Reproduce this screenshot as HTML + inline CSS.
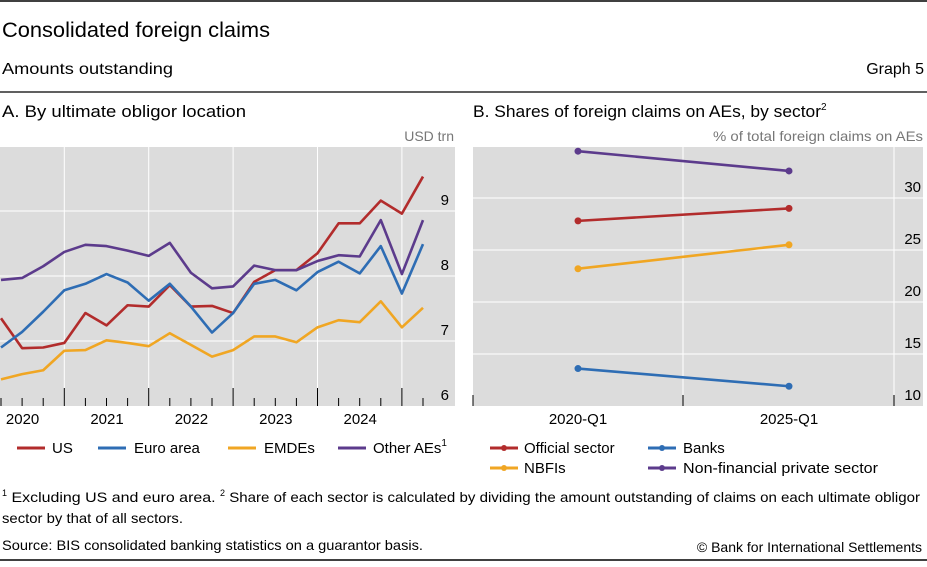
<!DOCTYPE html>
<html><head><meta charset="utf-8"><style>
body{margin:0;width:927px;height:562px;background:#fff;font-family:"Liberation Sans",sans-serif;overflow:hidden}
svg text{font-family:"Liberation Sans",sans-serif}
</style></head><body>
<svg id="c" width="927" height="562" xmlns="http://www.w3.org/2000/svg">
<line x1="0" y1="1" x2="927" y2="1" stroke="#000" stroke-width="1.5"/>
<text x="2" y="37" font-size="21" textLength="268" lengthAdjust="spacingAndGlyphs">Consolidated foreign claims</text>
<text x="2" y="74" font-size="16" textLength="171" lengthAdjust="spacingAndGlyphs">Amounts outstanding</text>
<text x="924" y="74" font-size="16" text-anchor="end">Graph 5</text>
<line x1="0" y1="92" x2="927" y2="92" stroke="#000" stroke-width="1.2"/>
<text x="2" y="117" font-size="17" textLength="244" lengthAdjust="spacingAndGlyphs">A.  By ultimate obligor location</text>
<text x="473" y="117" font-size="17"><tspan textLength="348" lengthAdjust="spacingAndGlyphs">B. Shares of foreign claims on AEs, by sector</tspan><tspan font-size="10" dy="-7">2</tspan></text>
<text x="454" y="141" font-size="14" fill="#777" text-anchor="end">USD trn</text>
<text x="923" y="141" font-size="14" fill="#777" text-anchor="end" textLength="210" lengthAdjust="spacingAndGlyphs">% of total foreign claims on AEs</text>
<g id="ga"></g><g id="gb"></g>
<g font-size="15">
<line x1="17" y1="448" x2="45" y2="448" stroke="#b22c2c" stroke-width="3"/><text x="52" y="453">US</text>
<line x1="98" y1="448" x2="126" y2="448" stroke="#2e6db4" stroke-width="3"/><text x="134" y="453">Euro area</text>
<line x1="228" y1="448" x2="256" y2="448" stroke="#f0a623" stroke-width="3"/><text x="264" y="453">EMDEs</text>
<line x1="338" y1="448" x2="366" y2="448" stroke="#5c3b8c" stroke-width="3"/><text x="373" y="453">Other AEs<tspan font-size="10" dy="-7">1</tspan></text>
</g>
<g font-size="15">
<line x1="490" y1="448" x2="518" y2="448" stroke="#b22c2c" stroke-width="3"/><circle cx="504" cy="448" r="3" fill="#b22c2c"/><text x="524" y="453">Official sector</text>
<line x1="648" y1="448" x2="676" y2="448" stroke="#2e6db4" stroke-width="3"/><circle cx="662" cy="448" r="3" fill="#2e6db4"/><text x="683" y="453">Banks</text>
<line x1="490" y1="468" x2="518" y2="468" stroke="#f0a623" stroke-width="3"/><circle cx="504" cy="468" r="3" fill="#f0a623"/><text x="524" y="473">NBFIs</text>
<line x1="648" y1="468" x2="676" y2="468" stroke="#5c3b8c" stroke-width="3"/><circle cx="662" cy="468" r="3" fill="#5c3b8c"/><text x="683" y="473" textLength="195" lengthAdjust="spacingAndGlyphs">Non-financial private sector</text>
</g>
<text x="2" y="502" font-size="14"><tspan font-size="9" dy="-6">1</tspan><tspan dy="6" textLength="213" lengthAdjust="spacingAndGlyphs">  Excluding US and euro area.   </tspan><tspan font-size="9" dy="-6">2</tspan><tspan dy="6" textLength="695" lengthAdjust="spacingAndGlyphs">  Share of each sector is calculated by dividing the amount outstanding of claims on each ultimate obligor</tspan></text>
<text x="2" y="523" font-size="14" textLength="181" lengthAdjust="spacingAndGlyphs">sector by that of all sectors.</text>
<text x="2" y="550" font-size="14" textLength="421" lengthAdjust="spacingAndGlyphs">Source: BIS consolidated banking statistics on a guarantor basis.</text>
<text x="922" y="552" font-size="14" text-anchor="end">© Bank for International Settlements</text>
<line x1="0" y1="560" x2="927" y2="560" stroke="#000" stroke-width="1.5"/>
</svg>
<script>
const us=[7.35,6.89,6.90,6.97,7.43,7.24,7.55,7.53,7.86,7.53,7.54,7.43,7.91,8.09,8.09,8.35,8.81,8.81,9.16,8.96,9.53];
const euro=[6.90,7.14,7.45,7.78,7.88,8.03,7.90,7.62,7.88,7.53,7.13,7.43,7.88,7.94,7.78,8.06,8.22,8.04,8.46,7.73,8.49];
const emdes=[6.41,6.49,6.55,6.85,6.86,7.01,6.97,6.92,7.12,6.94,6.76,6.86,7.07,7.07,6.98,7.21,7.32,7.29,7.61,7.21,7.51];
const otherAEs=[7.94,7.97,8.15,8.37,8.48,8.46,8.39,8.31,8.51,8.05,7.81,7.84,8.16,8.09,8.09,8.23,8.32,8.30,8.86,8.03,8.86];
const yearLabels=["2020","2021","2022","2023","2024"];
const yTicksA=[6,7,8,9];
const catsB=["2020-Q1","2025-Q1"];
const official=[27.8,29.0];
const nbfis=[23.2,25.5];
const banks=[13.6,11.9];
const nonfin=[34.5,32.6];
const yTicksB=[10,15,20,25,30];
const NS="http://www.w3.org/2000/svg";
function mk(p,t,a){const e=document.createElementNS(NS,t);for(const k in a)e.setAttribute(k,a[k]);p.appendChild(e);return e;}
// Panel A
const ga=document.getElementById('ga');
const xA=i=>1+i*21.1, yA=v=>406-(v-6)*65;
const bgA=mk(ga,'rect',{x:0,y:147,width:455,height:259,fill:'#dcdcdc'});


yTicksA.forEach(t=>{
 if(t>6){const l=mk(ga,'line',{x1:0,x2:455,y1:yA(t),y2:yA(t),stroke:'#fff','stroke-width':1});
 
 }
 const tx=mk(ga,'text',{x:449,y:yA(t)-6,'font-size':15,'text-anchor':'end'});tx.textContent=t;
 
 
});
for(let i=0;i<=20;i++){
 const yr=(i%4===3);
 if(yr){const g=mk(ga,'line',{x1:xA(i),x2:xA(i),y1:147,y2:406,stroke:'#fff','stroke-width':1});
 
 }
 const tk=mk(ga,'line',{x1:xA(i),x2:xA(i),y1:yr?388:398,y2:406,stroke:'#000','stroke-width':1});
 
 
}
yearLabels.forEach((l,k)=>{const t=mk(ga,'text',{x:xA(4*k+1)+0.5,y:424,'font-size':15,'text-anchor':'middle'});t.textContent=l;
 
 });
[[us,'#b22c2c','series-us'],[euro,'#2e6db4','series-euro-area'],[emdes,'#f0a623','series-emdes'],[otherAEs,'#5c3b8c','series-other-aes']].forEach(([d,c,n])=>{
 const p=mk(ga,'polyline',{points:d.map((v,i)=>xA(i)+','+yA(v)).join(' '),fill:'none',stroke:c,'stroke-width':2.6,'stroke-linejoin':'round'});
 
 
});
// Panel B
const gb=document.getElementById('gb');
const xB=i=>578+i*211, yB=v=>406-(v-10)*10.4;
const bgB=mk(gb,'rect',{x:473,y:147,width:450,height:259,fill:'#dcdcdc'});


yTicksB.forEach(t=>{
 if(t>10){const l=mk(gb,'line',{x1:473,x2:923,y1:yB(t),y2:yB(t),stroke:'#fff','stroke-width':1});
 
 }
 const tx=mk(gb,'text',{x:921,y:yB(t)-6,'font-size':15,'text-anchor':'end'});tx.textContent=t;
 
 
});
[473,683,894].forEach(x=>{
 if(x!==473){const g=mk(gb,'line',{x1:x,x2:x,y1:147,y2:406,stroke:'#fff','stroke-width':1});
 
 }
 const t=mk(gb,'line',{x1:x,x2:x,y1:395,y2:406,stroke:'#000','stroke-width':1});
 
 
});
catsB.forEach((c,i)=>{const t=mk(gb,'text',{x:xB(i),y:424,'font-size':15,'text-anchor':'middle'});t.textContent=c;
 
 });
[[nonfin,'#5c3b8c','series-non-financial'],[official,'#b22c2c','series-official'],[nbfis,'#f0a623','series-nbfis'],[banks,'#2e6db4','series-banks']].forEach(([d,c,n])=>{
 const p=mk(gb,'polyline',{points:d.map((v,i)=>xB(i)+','+yB(v)).join(' '),fill:'none',stroke:c,'stroke-width':2.6});
 
 
 d.forEach((v,i)=>{const m=mk(gb,'circle',{cx:xB(i),cy:yB(v),r:3.5,fill:c});
 
 });
});
</script>
</body></html>
